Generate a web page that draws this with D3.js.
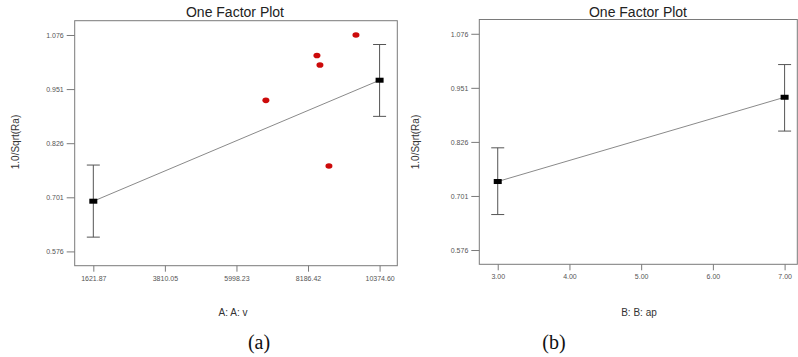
<!DOCTYPE html>
<html>
<head>
<meta charset="utf-8">
<script src="https://cdn.jsdelivr.net/npm/d3@7"></script>
<style>
  body { margin: 0; background: #fff; }
  svg { display: block; }
  .tick text { font-family: Arial, "Liberation Sans", sans-serif; font-size: 7px; fill: #555; }
</style>
</head>
<body>
<svg id="chart" width="798" height="357"></svg>
<script>
// panel (a): factor A, v
var aTicks = [1621.87, 3810.05, 5998.23, 8186.42, 10374.60];
var aMeans = [0.692, 0.9715];
var aLow = [0.609, 0.888];
var aHigh = [0.7755, 1.054];
var aLevels = [1621.87, 10374.60];
var aRunsX = [6898, 8459, 8551, 8826, 9652];
var aRunsY = [0.925, 1.0285, 1.0068, 0.7732, 1.076];

// panel (b): factor B, ap
var bTicks = [3.00, 4.00, 5.00, 6.00, 7.00];
var bLevels = [3.00, 7.00];
var bMeans = [0.7344, 0.9292];
var bLow = [0.658, 0.851];
var bHigh = [0.8123, 1.0048];

var yTicks = [0.576, 0.701, 0.826, 0.951, 1.076];

var svg = d3.select("#chart");

function panel(opt) {
  var g = svg.append("g");
  var x = d3.scaleLinear().domain(opt.xDomain).range([opt.left, opt.right]);
  var y = d3.scaleLinear().domain([0.543, 1.109]).range([opt.bottom, opt.top]);

  g.append("rect")
    .attr("x", opt.left).attr("y", opt.top)
    .attr("width", opt.right - opt.left).attr("height", opt.bottom - opt.top)
    .attr("fill", "none").attr("stroke", "#7a7a7a").attr("stroke-width", 1);

  var yAxis = g.append("g")
    .attr("transform", "translate(" + opt.left + ",0)")
    .call(d3.axisLeft(y).tickValues(yTicks).tickSize(8).tickPadding(3).tickFormat(d3.format(".3f")));
  var xAxis = g.append("g")
    .attr("transform", "translate(0," + opt.bottom + ")")
    .call(d3.axisBottom(x).tickValues(opt.xTicks).tickSize(6).tickPadding(4).tickFormat(d3.format(".2f")));
  [yAxis, xAxis].forEach(function(a) {
    a.select(".domain").remove();
    a.selectAll(".tick line").attr("stroke", "#7a7a7a");
  });

  // fitted line
  g.append("path")
    .datum(d3.range(opt.levels.length))
    .attr("fill", "none").attr("stroke", "#8a8a8a").attr("stroke-width", 1)
    .attr("d", d3.line().x(function(i) { return x(opt.levels[i]); }).y(function(i) { return y(opt.means[i]); }));

  // error bars
  var eb = g.selectAll(".eb").data(d3.range(opt.levels.length)).enter().append("g")
    .attr("stroke", "#555").attr("stroke-width", 1);
  eb.append("line")
    .attr("x1", function(i) { return x(opt.levels[i]); }).attr("x2", function(i) { return x(opt.levels[i]); })
    .attr("y1", function(i) { return y(opt.low[i]); }).attr("y2", function(i) { return y(opt.high[i]); });
  eb.append("line")
    .attr("x1", function(i) { return x(opt.levels[i]) - 6.5; }).attr("x2", function(i) { return x(opt.levels[i]) + 6.5; })
    .attr("y1", function(i) { return y(opt.high[i]); }).attr("y2", function(i) { return y(opt.high[i]); });
  eb.append("line")
    .attr("x1", function(i) { return x(opt.levels[i]) - 6.5; }).attr("x2", function(i) { return x(opt.levels[i]) + 6.5; })
    .attr("y1", function(i) { return y(opt.low[i]); }).attr("y2", function(i) { return y(opt.low[i]); });

  g.selectAll(".m").data(d3.range(opt.levels.length)).enter().append("rect")
    .attr("x", function(i) { return x(opt.levels[i]) - 4; })
    .attr("y", function(i) { return y(opt.means[i]) - 2.5; })
    .attr("width", 8).attr("height", 5).attr("fill", "#000");

  if (opt.runsX) {
    g.selectAll(".run").data(d3.range(opt.runsX.length)).enter().append("ellipse")
      .attr("cx", function(i) { return x(opt.runsX[i]); })
      .attr("cy", function(i) { return y(opt.runsY[i]); })
      .attr("rx", 3.5).attr("ry", 2.8).attr("fill", "#cc0a0a");
  }

  g.append("text").attr("x", opt.titleX).attr("y", 17)
    .attr("text-anchor", "middle").attr("font-family", "Arial, 'Liberation Sans', sans-serif")
    .attr("font-size", "14px").attr("fill", "#222").text("One Factor Plot");
  g.append("text").attr("transform", "translate(" + opt.yLabelX + ",142) rotate(-90)")
    .attr("text-anchor", "middle").attr("dy", "0.35em")
    .attr("font-family", "Arial, 'Liberation Sans', sans-serif").attr("font-size", "10px").attr("fill", "#333")
    .text("1.0/Sqrt(Ra)");
  g.append("text").attr("x", opt.xLabelX).attr("y", 312).attr("dy", "0.35em")
    .attr("text-anchor", "middle").attr("font-family", "Arial, 'Liberation Sans', sans-serif")
    .attr("font-size", "10px").attr("fill", "#333").text(opt.xLabel);
  g.append("text").attr("x", opt.capX).attr("y", 342).attr("dy", "0.35em")
    .attr("text-anchor", "middle").attr("font-family", "'Times New Roman', 'Liberation Serif', serif")
    .attr("font-size", "20px").attr("fill", "#111").text(opt.caption);
}

panel({
  left: 74.7, right: 397.3, top: 20.7, bottom: 265.7,
  xDomain: [1052.6, 10916], xTicks: aTicks,
  levels: aLevels, means: aMeans, low: aLow, high: aHigh,
  runsX: aRunsX, runsY: aRunsY,
  titleX: 235, yLabelX: 15.7, xLabelX: 233, capX: 259,
  xLabel: "A: A: v", caption: "(a)"
});

panel({
  left: 479.3, right: 797.3, top: 19.5, bottom: 264.3,
  xDomain: [2.743, 7.177], xTicks: bTicks,
  levels: bLevels, means: bMeans, low: bLow, high: bHigh,
  titleX: 638, yLabelX: 415.7, xLabelX: 639, capX: 554,
  xLabel: "B: B: ap", caption: "(b)"
});
</script>
</body>
</html>
